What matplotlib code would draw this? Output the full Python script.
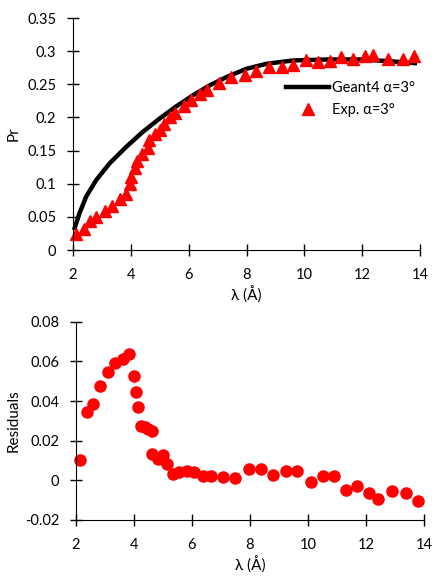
import numpy as np
import matplotlib.pyplot as plt

# Geant4 simulation curve (alpha = 3 deg)
geant_lam = [2.06, 2.23, 2.46, 2.81, 3.27, 3.85, 4.42, 5.0, 5.58, 6.15, 6.73,
             7.31, 8.0, 8.69, 9.61, 10.77, 11.92, 13.07, 13.82]
geant_pr = [0.0335, 0.056, 0.081, 0.106, 0.131, 0.156, 0.1785, 0.1985, 0.217,
            0.2335, 0.2485, 0.261, 0.2735, 0.281, 0.286, 0.2875, 0.2875,
            0.2845, 0.282]

# measured points (alpha = 3 deg)
exp_lam = [2.09, 2.37, 2.58, 2.81, 3.10, 3.35, 3.61, 3.82, 3.96, 4.02, 4.13,
           4.21, 4.40, 4.60, 4.63, 4.83, 5.00, 5.14, 5.35, 5.52, 5.83, 6.09,
           6.38, 6.64, 7.04, 7.48, 7.94, 8.34, 8.78, 9.21, 9.61, 10.07, 10.48,
           10.90, 11.28, 11.69, 12.09, 12.38, 12.90, 13.40, 13.80]
exp_pr = [0.0235, 0.031, 0.0435, 0.050, 0.0585, 0.067, 0.0775, 0.0845, 0.0995,
          0.110, 0.1235, 0.135, 0.145, 0.1535, 0.166, 0.175, 0.181, 0.190,
          0.201, 0.207, 0.217, 0.226, 0.235, 0.242, 0.252, 0.261, 0.2635,
          0.2695, 0.276, 0.276, 0.2785, 0.286, 0.2835, 0.2845, 0.291, 0.2885,
          0.292, 0.2945, 0.2885, 0.2885, 0.2935]

# residuals
res_lam = [2.15, 2.38, 2.60, 2.84, 3.10, 3.35, 3.61, 3.85, 4.00, 4.07, 4.16,
           4.23, 4.38, 4.50, 4.61, 4.63, 4.82, 5.02, 5.15, 5.34, 5.55, 5.84,
           6.09, 6.39, 6.66, 7.06, 7.50, 7.97, 8.37, 8.79, 9.24, 9.64, 10.11,
           10.51, 10.90, 11.31, 11.71, 12.10, 12.42, 12.91, 13.39, 13.79]
res_val = [0.0101, 0.0343, 0.0383, 0.0477, 0.0545, 0.059, 0.061, 0.0635,
           0.0528, 0.0445, 0.0368, 0.0276, 0.0267, 0.0259, 0.025, 0.0133,
           0.0108, 0.0128, 0.0082, 0.0032, 0.004, 0.0049, 0.004, 0.0024,
           0.0024, 0.0018, 0.001, 0.0055, 0.0055, 0.0025, 0.0047, 0.0047,
           -0.0008, 0.0022, 0.0024, -0.0049, -0.003, -0.0066, -0.0092,
           -0.0052, -0.0066, -0.0106]

plt.rcParams['font.family'] = ['Lato', 'DejaVu Sans']
plt.rcParams['font.size'] = 10.5

fig = plt.figure(figsize=(4.41, 5.77), dpi=100)
ax1 = fig.add_axes([0.1655, 0.5667, 0.787, 0.402])
ax2 = fig.add_axes([0.172, 0.0988, 0.789, 0.3437])

ax1.plot(geant_lam, geant_pr, '-', color='black', lw=3.2, label='Geant4 α=3°')
ax1.plot(exp_lam, exp_pr, '^', color='red', ms=8.5, ls='none', label='Exp. α=3°')
ax1.set_xlim(2, 14)
ax1.set_ylim(0, 0.35)
ax1.set_xticks(np.arange(2, 15, 2))
ax1.set_yticks(np.arange(0, 0.351, 0.05))
ax1.set_yticklabels(['0', '0.05', '0.1', '0.15', '0.2', '0.25', '0.3', '0.35'])
ax1.set_xlabel('λ (Å)', labelpad=3, fontsize=11)
ax1.set_ylabel('Pr', fontsize=11, labelpad=5)
ax1.legend(loc='upper left', bbox_to_anchor=(0.575, 0.785), frameon=False,
           handlelength=3.0, handletextpad=0.15, labelspacing=0.55,
           fontsize=10.5)

ax2.plot(res_lam, res_val, 'o', color='red', ms=8, ls='none')
ax2.set_xlim(2, 14)
ax2.set_ylim(-0.02, 0.08)
ax2.set_xticks(np.arange(2, 15, 2))
ax2.set_yticks([-0.02, 0, 0.02, 0.04, 0.06, 0.08])
ax2.set_yticklabels(['-0.02', '0', '0.02', '0.04', '0.06', '0.08'])
ax2.set_xlabel('λ (Å)', labelpad=3, fontsize=11)
ax2.set_ylabel('Residuals', fontsize=11, labelpad=3)

for ax in (ax1, ax2):
    ax.spines['top'].set_visible(False)
    ax.spines['right'].set_visible(False)
    ax.tick_params(direction='inout', length=8, width=1)
    ax.tick_params(axis='x', pad=9)
    ax.tick_params(axis='y', pad=8)
    for line in ax.get_lines():
        line.set_clip_on(False)

fig.savefig('out.png', dpi=100)
